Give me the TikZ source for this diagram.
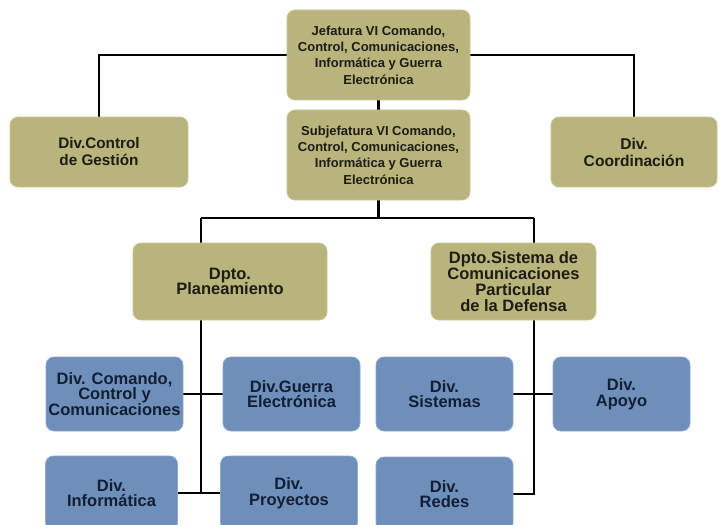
\documentclass[tikz,border=0pt]{standalone}
\usepackage{fontspec}
\setmainfont{Liberation Sans}
\usetikzlibrary{backgrounds}
\definecolor{olive}{RGB}{184,180,124}
\definecolor{olivedge}{RGB}{200,197,150}
\definecolor{bluebox}{RGB}{110,143,186}
\definecolor{bluedge}{RGB}{140,168,204}
\definecolor{navytext}{RGB}{18,30,52}
\definecolor{olivetext}{RGB}{28,28,18}
\tikzset{
  obox/.style={draw=olivedge, line width=0.8pt, fill=olive, rounded corners=8pt, align=center,
    font=\bfseries, text=olivetext, inner sep=1pt},
  bbox/.style={draw=bluedge, line width=0.8pt, fill=bluebox, rounded corners=8pt, align=center,
    font=\bfseries\fontsize{16.5}{15.6}\selectfont, text=navytext, inner sep=1pt},
  conn/.style={line width=2.9pt, black}
}
\begin{document}
\begin{tikzpicture}[x=1pt,y=-1pt]
\useasboundingbox (0,0) rectangle (719,524);
\begin{scope}
\clip (0,0) rectangle (719,524);
\node[obox, minimum width=183, minimum height=90, font=\bfseries\fontsize{13}{16.4}\selectfont] (jef) at (378.5,55)
  {Jefatura VI Comando,\\Control, Comunicaciones,\\Informática y Guerra\\Electrónica};
\node[obox, minimum width=183, minimum height=90, font=\bfseries\fontsize{13}{16.4}\selectfont] (sub) at (378.5,155)
  {Subjefatura VI Comando,\\Control, Comunicaciones,\\Informática y Guerra\\Electrónica};
\node[obox, minimum width=178, minimum height=70, font=\bfseries\fontsize{15.3}{17}\selectfont] (ctrl) at (99,152)
  {Div.Control\\de Gestión};
\node[obox, minimum width=166, minimum height=70, font=\bfseries\fontsize{15.6}{17}\selectfont] (coord) at (634,152)
  {Div.\\Coordinación};
\node[obox, minimum width=194, minimum height=77, font=\bfseries\fontsize{16.5}{15.5}\selectfont] (plan) at (230,281.5)
  {Dpto.\\Planeamiento};
\node[obox, minimum width=165, minimum height=77, font=\bfseries\fontsize{16.5}{15.8}\selectfont] (sist) at (513.5,281.5)
  {Dpto.Sistema de\\Comunicaciones\\Particular\\de la Defensa};
\node[bbox, minimum width=137, minimum height=74] (cmd) at (114.5,394)
  {Div. Comando,\\Control y\\Comunicaciones};
\node[bbox, minimum width=137, minimum height=74] (guer) at (291.5,394)
  {Div.Guerra\\Electrónica};
\node[bbox, minimum width=132, minimum height=74] (inf) at (111.5,493)
  {Div.\\Informática};
\node[bbox, minimum width=137, minimum height=74] (proy) at (289,493)
  {Div.\\Proyectos};
\node[bbox, minimum width=137, minimum height=74] (sis) at (444.5,394)
  {Div.\\Sistemas};
\node[bbox, minimum width=137, minimum height=74] (apo) at (621.5,394)
  {Div.\\Apoyo};
\node[bbox, minimum width=137, minimum height=74] (red) at (444.5,494)
  {Div.\\Redes};
\coordinate (j1) at (378.5,218);
\coordinate (spL) at (201,218);
\coordinate (spR) at (534,218);
\begin{scope}[on background layer]
\draw[conn] (jef.west) -| (ctrl.north);
\draw[conn] (jef.east) -| (coord.north);
\draw[conn] (jef.south) -- (sub.north);
\draw[conn] (sub.south) -- (j1);
\draw[conn] (spL) -- (spR);
\draw[conn] (spL) |- (inf.east);
\draw[conn] (inf.east) -- (proy.west);
\draw[conn] (cmd.east) -- (guer.west);
\draw[conn] (spR) |- (red.east);
\draw[conn] (sis.east) -- (apo.west);
\end{scope}
\end{scope}
\end{tikzpicture}
\end{document}
